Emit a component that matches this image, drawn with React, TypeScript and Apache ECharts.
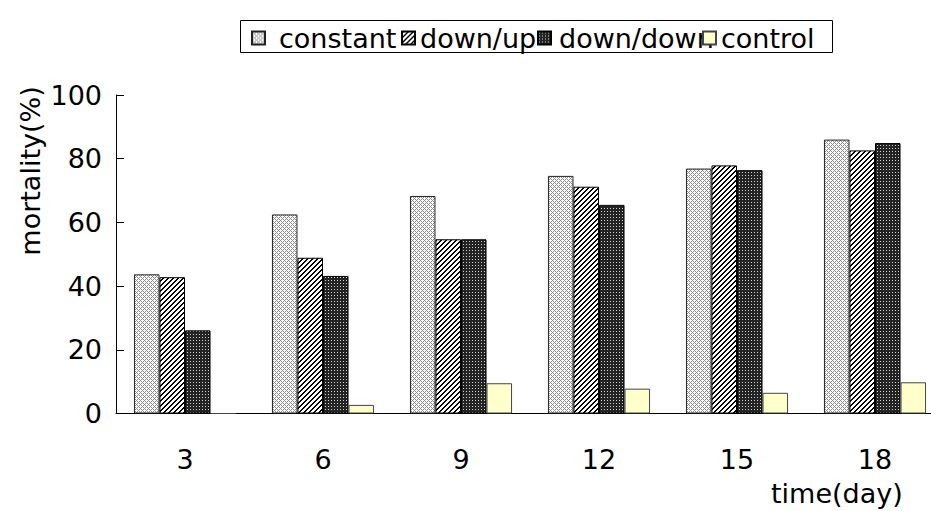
import React, { useEffect, useRef } from "react";
import * as echarts from "echarts";

const categories = ["3", "6", "9", "12", "15", "18"];
const seriesNames = ["constant", "down/up", "down/down", "control"];
const constantValues = [43.7, 62.5, 68.3, 74.6, 76.9, 86.0];
const downUpValues = [42.8, 48.9, 54.7, 71.2, 77.9, 82.6];
const downDownValues = [26.1, 43.2, 54.7, 65.5, 76.4, 84.9];
const controlValues = [0, 2.7, 9.5, 7.8, 6.5, 9.8];
const yTicks = { min: 0, max: 100, interval: 20 };

const FONT = "DejaVu Sans";

function makeTile(size: number, fn: (x: number, y: number) => [number, number, number]) {
  const c = document.createElement("canvas");
  c.width = size;
  c.height = size;
  const ctx = c.getContext("2d")!;
  const img = ctx.createImageData(size, size);
  for (let y = 0; y < size; y++) {
    for (let x = 0; x < size; x++) {
      const [r, g, b] = fn(x, y);
      const i = (y * size + x) * 4;
      img.data[i] = r;
      img.data[i + 1] = g;
      img.data[i + 2] = b;
      img.data[i + 3] = 255;
    }
  }
  ctx.putImageData(img, 0, 0);
  return c;
}

export default function App() {
  const ref = useRef<HTMLDivElement>(null);
  useEffect(() => {
    if (!ref.current) return;
    const chart = echarts.init(ref.current, undefined, { renderer: "svg" });

    const crossTile = makeTile(4, (x, y) =>
      (x + y) % 4 === 0 || (x - y + 4) % 4 === 0 ? [140, 140, 140] : [255, 255, 255]
    );
    const stripeTile = makeTile(10, (x, y) =>
      (x + y) % 5 < 2 ? [0, 0, 0] : [255, 255, 255]
    );
    const dotTile = makeTile(3, (x, y) =>
      x === 1 && y === 1 ? [210, 210, 210] : [35, 35, 35]
    );
    const pat = (c: HTMLCanvasElement) =>
      ({ image: c, repeat: "repeat", imageWidth: c.width, imageHeight: c.height } as any);

    const fills = [pat(crossTile), pat(stripeTile), pat(dotTile), "#FFFFCC"];
    const borders = ["#222", "#000", "#000", "#444"];
    const values = [constantValues, downUpValues, downDownValues, controlValues];

    const legendIconLeft = [251, 401, 537, 702];
    const legendTextPad = [9, 0, 3, 0];

    const option: any = {
      animation: false,
      grid: { left: 116, right: 0, top: 95, bottom: 97.5 },
      legend: seriesNames.map((n, i) => ({
        data: [n],
        left: legendIconLeft[i],
        top: 23,
        padding: 0,
        itemGap: 0,
        icon: "rect",
        itemWidth: 13,
        itemHeight: 13,
        selectedMode: false,
        textStyle: {
          fontFamily: FONT,
          fontSize: 27,
          color: "#000",
          lineHeight: 30,
          padding: [0, 0, 0, legendTextPad[i]],
        },
      })),
      xAxis: {
        type: "category",
        data: categories,
        axisLine: { lineStyle: { color: "#000", width: 1 } },
        axisTick: { inside: true, length: 8, lineStyle: { color: "#000" } },
        axisLabel: { fontFamily: FONT, fontSize: 27, color: "#000", margin: 32 },
      },
      yAxis: {
        type: "value",
        min: yTicks.min,
        max: yTicks.max,
        interval: yTicks.interval,
        splitLine: { show: false },
        axisLine: { show: true, lineStyle: { color: "#000", width: 1 } },
        axisTick: { show: true, inside: true, length: 8, lineStyle: { color: "#000" } },
        axisLabel: {
          fontFamily: FONT,
          fontSize: 27,
          color: "#000",
          margin: 14,
          padding: [12, 0, 0, 0],
        },
      },
      series: seriesNames.map((n, i) => ({
        name: n,
        type: "bar",
        data: values[i],
        barGap: "0%",
        barCategoryGap: "26%",
        itemStyle: { color: fills[i], borderColor: borders[i], borderWidth: 1 },
      })),
      graphic: [
        {
          type: "rect",
          shape: { x: 240.5, y: 20.5, width: 592, height: 32 },
          style: { fill: "none", stroke: "#000", lineWidth: 1 },
          z: 0,
        },
        {
          type: "text",
          x: 30,
          y: 171,
          rotation: Math.PI / 2,
          style: {
            text: "mortality(%)",
            fontFamily: FONT,
            fontSize: 27,
            fill: "#000",
            align: "center",
            verticalAlign: "middle",
          },
        },
        {
          type: "text",
          x: 771,
          y: 480,
          style: {
            text: "time(day)",
            fontFamily: FONT,
            fontSize: 27,
            fill: "#000",
            align: "left",
            verticalAlign: "top",
          },
        },
      ],
    };
    chart.setOption(option);
    return () => chart.dispose();
  }, []);
  return (
    <div style={{ width: 931, height: 511, position: "absolute", left: 0, top: 0, overflow: "hidden" }}>
      <div ref={ref} style={{ width: 944, height: 511 }} />
    </div>
  );
}
